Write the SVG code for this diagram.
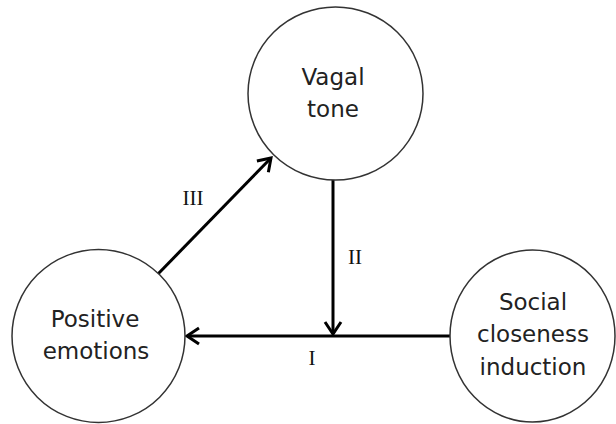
<svg xmlns="http://www.w3.org/2000/svg" width="616" height="424" viewBox="0 0 616 424">
  <defs>
    <style>
      .node { fill: #ffffff; stroke: #333333; stroke-width: 1.5; }
      .lbl { font-family: "DejaVu Sans", "Liberation Sans", sans-serif; font-size: 23px; fill: #222222; text-anchor: middle; }
      .rom { font-family: "Liberation Serif", serif; font-size: 21px; fill: #111111; text-anchor: middle; }
      .edge { stroke: #000000; stroke-width: 3; fill: none; }
    </style>
    <marker id="arr" markerUnits="userSpaceOnUse" markerWidth="20" markerHeight="20" viewBox="-14 -10 16 20" refX="0" refY="0" orient="auto">
      <path d="M-12,-8 L0,0 L-12,8" fill="none" stroke="#000000" stroke-width="3" stroke-linejoin="miter"/>
    </marker>
  </defs>
  <rect width="616" height="424" fill="#ffffff"/>
  <g id="connectors">
    <line class="edge" x1="157" y1="275" x2="271" y2="158" marker-end="url(#arr)"/>
    <line class="edge" x1="333" y1="180" x2="333" y2="334" marker-end="url(#arr)"/>
    <line class="edge" x1="450" y1="336" x2="187" y2="336" marker-end="url(#arr)"/>
    <text class="rom" x="193" y="205">III</text>
    <text class="rom" x="355" y="264">II</text>
    <text class="rom" x="312" y="365">I</text>
  </g>
  <g id="vagal">
    <ellipse class="node" cx="335.5" cy="93.5" rx="87.5" ry="86.5"/>
    <text class="lbl" x="333" y="85">Vagal</text>
    <text class="lbl" x="333" y="117">tone</text>
  </g>
  <g id="positive">
    <ellipse class="node" cx="98.5" cy="336" rx="86.5" ry="86.5"/>
    <text class="lbl" x="95" y="327">Positive</text>
    <text class="lbl" x="96" y="359">emotions</text>
  </g>
  <g id="social">
    <ellipse class="node" cx="532.5" cy="336" rx="82.5" ry="86"/>
    <text class="lbl" x="533" y="310">Social</text>
    <text class="lbl" x="533" y="342">closeness</text>
    <text class="lbl" x="533" y="375">induction</text>
  </g>
</svg>
